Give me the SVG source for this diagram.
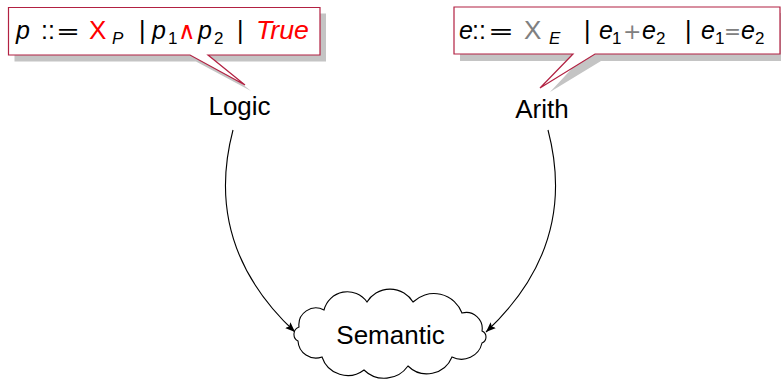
<svg xmlns="http://www.w3.org/2000/svg" width="781" height="379" viewBox="0 0 781 379">
<defs>
<style>
.t{font-family:"Liberation Sans",Arial,sans-serif;fill:#000}
.i{font-style:italic}
.r{fill:#ff0000}
.g{fill:#808080}
.big{font-size:25px}
.x{font-size:26px}
.sub{font-size:17px}
.d{font-family:"DejaVu Sans",sans-serif;font-size:22px}
.w{font-family:"DejaVu Sans",sans-serif;font-size:24px}
.lbl{font-family:"Liberation Sans",Arial,sans-serif;font-size:26px;fill:#000;text-anchor:middle}
.box{fill:#fff;stroke:#b22142;stroke-width:1.2;stroke-linejoin:miter}
.shadow{fill:#c4c4c4;stroke:none}
.edge{fill:none;stroke:#000;stroke-width:1.1}
.cloud{fill:#fff;stroke:#000;stroke-width:1.1}
</style>
<marker id="arr" viewBox="0 0 10 8" refX="10" refY="4" markerWidth="10" markerHeight="8" markerUnits="userSpaceOnUse" orient="auto">
<path d="M0,0 L10,4 L0,8 L2,4 z" fill="#000"/>
</marker>
</defs>

<g id="edges">
<path class="edge" d="M233 130 C 208 225, 250 290, 295 332" marker-end="url(#arr)"/>
<path class="edge" d="M548 130 C 573 225, 531 290, 486 332" marker-end="url(#arr)"/>
</g>

<g id="logic-callout">
<path class="shadow" d="M14.5 13.5 H326 V61.5 H214 L251 91 L196 61.5 H14.5 Z"/>
<path class="box" d="M8.5 7.5 H320 V55 H208 L245 85 L190 55 H8.5 Z"/>
<text class="t big i" x="16" y="39">p</text>
<text class="t big" x="41" y="39">::</text>
<text class="t d" x="56" y="39" textLength="24" lengthAdjust="spacingAndGlyphs">=</text>
<text class="t x r" x="89" y="39">X</text>
<text class="t sub i" x="112" y="44">P</text>
<text class="t big" x="139" y="39">|</text>
<text class="t big i" x="152" y="39">p</text>
<text class="t sub" x="168" y="44">1</text>
<text class="t w r" x="178" y="39">∧</text>
<text class="t big i" x="198" y="39">p</text>
<text class="t sub" x="214" y="44">2</text>
<text class="t big" x="237" y="39">|</text>
<text class="t big i r" x="256" y="39" textLength="53" lengthAdjust="spacingAndGlyphs">True</text>
</g>

<g id="arith-callout">
<path class="shadow" d="M460 13 H786 V61 H601 L550 92 L579 61 H460 Z"/>
<path class="box" d="M454 7 H780 V54 H595 L540 88 L573 54 H454 Z"/>
<text class="t big i" x="459" y="39">e</text>
<text class="t big" x="472" y="39">::</text>
<text class="t d" x="488" y="39" textLength="26" lengthAdjust="spacingAndGlyphs">=</text>
<text class="t x g" x="524" y="39">X</text>
<text class="t sub i" x="549" y="44">E</text>
<text class="t big" x="584" y="39">|</text>
<text class="t big i" x="599" y="39">e</text>
<text class="t sub" x="612" y="44">1</text>
<text class="t d g" x="623" y="39">+</text>
<text class="t big i" x="642" y="39">e</text>
<text class="t sub" x="656" y="44">2</text>
<text class="t big" x="685" y="39">|</text>
<text class="t big i" x="701" y="39">e</text>
<text class="t sub" x="715" y="44">1</text>
<text class="t d g" x="724" y="39" textLength="17" lengthAdjust="spacingAndGlyphs">=</text>
<text class="t big i" x="741" y="39">e</text>
<text class="t sub" x="755" y="44">2</text>
</g>

<g id="logic">
<text class="lbl" x="239.5" y="115">Logic</text>
</g>

<g id="arith">
<text class="lbl" x="542" y="118">Arith</text>
</g>

<g id="semantic">
<path class="cloud" d="M299 327 A17 17 0 0 1 324 310 A24 24 0 0 1 367 302 A27 27 0 0 1 413 302 A30 30 0 0 1 462 313 A16 16 0 0 1 482 331 A6.5 6.5 0 0 1 482 343 A21 21 0 0 1 452 357 A27 27 0 0 1 408 366 A29 29 0 0 1 364 370 A27 27 0 0 1 322 357 A18 18 0 0 1 298 341 A7.7 7.7 0 0 1 299 327 Z"/>
<text class="lbl" x="390.5" y="344">Semantic</text>
</g>
</svg>
